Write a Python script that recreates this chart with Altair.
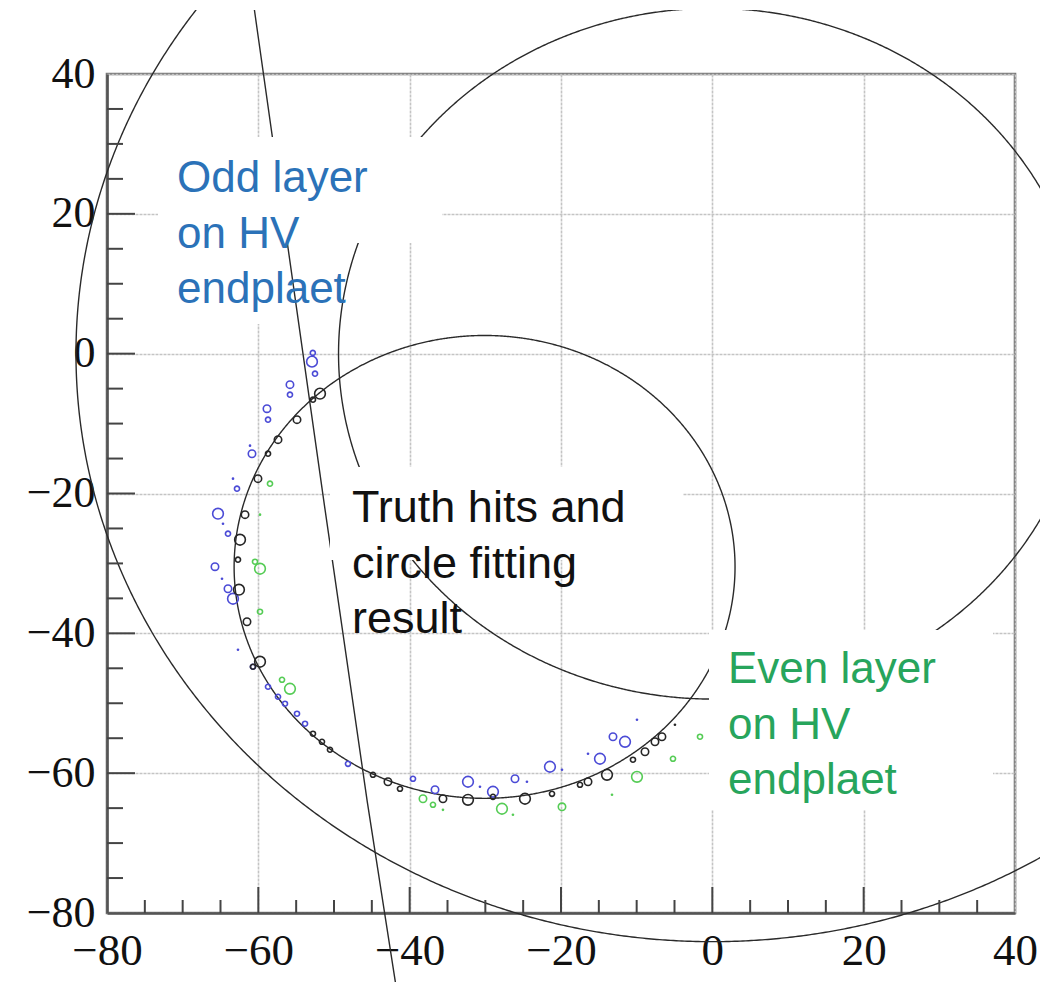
import numpy as np
import pandas as pd
import altair as alt

# ---- plot geometry (pixels of the plot frame) ----
W, H = 908, 839

# ---- axis ticks ----
major_ticks = [-80, -60, -40, -20, 0, 20, 40]
minor_ticks = [v for v in range(-80, 41, 5) if v % 20 != 0]

# ---- circles: fitted track circle and the two detector rings (cx, cy, r) ----
circle_names = ["fit", "inner_ring", "outer_ring"]
circle_cx = [-30.1, 0.0, 0.0]
circle_cy = [-30.5, 0.0, 0.0]
circle_r = [33.1, 49.4, 84.1]

# ---- second, almost straight track ----
track2_x = [-60.6, -53.2, -45.6, -41.8]
track2_y = [49.8, -6.9, -64.1, -90.5]

# ---- truth hits (black) ----
truth_x = [-51.85, -52.78, -54.89, -57.4, -58.72, -60.05, -61.76, -62.42, -62.69, -62.56,
           -61.5, -59.78, -60.71, -52.78, -51.59, -50.53, -44.85, -42.87, -41.28, -35.6,
           -32.29, -28.99, -24.76, -21.19, -17.49, -16.43, -13.92, -10.49, -8.9, -7.58,
           -6.66, -4.94]
truth_y = [-5.72, -6.58, -9.44, -12.3, -14.31, -17.88, -23.03, -26.61, -29.47, -33.76,
           -38.34, -44.06, -44.78, -54.36, -55.51, -56.65, -60.23, -61.23, -62.23, -63.66,
           -63.81, -63.38, -63.66, -62.95, -61.66, -61.23, -60.23, -58.08, -56.94, -55.51,
           -54.79, -53.08]
truth_s = ["big", "small", "med", "med", "small", "med", "med", "big", "small", "big",
           "med", "big", "small", "small", "small", "small", "small", "med", "small", "med",
           "big", "small", "big", "small", "small", "med", "big", "small", "med", "med",
           "med", "tiny"]

# ---- odd layer hits (blue) ----
odd_x = [-52.91, -52.8, -52.51, -55.82, -55.82, -58.86, -58.72, -60.84, -61.1, -62.82,
         -63.35, -65.33, -64.67, -64.01, -65.73, -64.8, -64.01, -63.35, -62.69, -60.71,
         -58.72, -57.4, -56.48, -54.89, -53.83, -48.15, -39.56, -36.65, -32.29, -30.71,
         -28.99, -26.08, -24.5, -21.46, -19.87, -16.43, -14.85, -13.13, -11.54, -9.96]
odd_y = [-1.14, 0.1, -2.86, -4.43, -5.87, -7.87, -9.44, -14.31, -13.16, -19.31,
         -17.88, -22.89, -24.32, -25.75, -30.47, -32.19, -33.62, -35.05, -42.35, -44.78,
         -47.64, -49.07, -50.07, -51.5, -52.93, -58.66, -60.8, -62.37, -61.23, -61.95,
         -62.66, -60.8, -61.23, -59.08, -59.51, -57.22, -57.94, -54.79, -55.51, -52.36]
odd_s = ["big", "small", "small", "med", "small", "med", "small", "med", "tiny", "small",
         "tiny", "big", "tiny", "small", "med", "tiny", "med", "big", "tiny", "small",
         "small", "small", "small", "small", "small", "small", "small", "med", "big", "tiny",
         "big", "med", "tiny", "big", "tiny", "tiny", "big", "med", "big", "tiny"]

# ---- even layer hits (green) ----
even_x = [-58.46, -59.78, -60.44, -59.78, -59.78, -56.87, -55.82, -38.24, -36.92, -35.6,
          -27.8, -26.35, -19.87, -13.26, -9.96, -5.2, -1.63]
even_y = [-18.6, -23.03, -29.76, -30.76, -36.91, -46.64, -47.93, -63.66, -64.52, -65.24,
          -65.09, -65.95, -64.81, -63.09, -60.52, -57.94, -54.79]
even_s = ["small", "tiny", "small", "big", "small", "small", "big", "med", "small", "tiny",
          "big", "tiny", "med", "tiny", "big", "small", "small"]

# ---- annotations ----
odd_label = ["Odd layer", "on HV", "endplaet"]
truth_label = ["Truth hits and", "circle fitting", "result"]
even_label = ["Even layer", "on HV", "endplaet"]

# ---------------------------------------------------------------
xs = alt.Scale(domain=[-80, 40], nice=False, zero=False)
ys = alt.Scale(domain=[-80, 40], nice=False, zero=False)

x_axis = alt.Axis(values=major_ticks, title=None, ticks=False, grid=True,
                  gridColor="#c4c4c4", gridWidth=1.6, gridDash=[3, 1],
                  domainColor="#555555", domainWidth=2.6,
                  labelFont="Liberation Serif", labelFontSize=45, labelColor="#111111",
                  labelPadding=15, labelFlush=False, labelOverlap=False)
y_axis = alt.Axis(values=major_ticks, title=None, ticks=False, grid=True,
                  gridColor="#c4c4c4", gridWidth=1.6, gridDash=[3, 1],
                  domainColor="#555555", domainWidth=2.6,
                  labelFont="Liberation Serif", labelFontSize=44, labelColor="#111111",
                  labelPadding=12, labelFlush=False, labelOverlap=False)


def X(field):
    return alt.X(field, scale=xs, axis=x_axis)


def Y(field):
    return alt.Y(field, scale=ys, axis=y_axis)


# circle outlines built from their centre and radius
theta = np.linspace(0, 2 * np.pi, 1441)
rows = []
for name, cx, cy, r in zip(circle_names, circle_cx, circle_cy, circle_r):
    for i, t in enumerate(theta):
        rows.append({"ring": name, "i": i, "x": cx + r * np.cos(t), "y": cy + r * np.sin(t)})
circles_df = pd.DataFrame(rows)

circles = alt.Chart(circles_df).mark_line(color="#2a2a2a", strokeWidth=1.4, clip=False).encode(
    x=X("x:Q"), y=Y("y:Q"), detail="ring:N", order="i:Q",
)

track2 = alt.Chart(pd.DataFrame({"x": track2_x, "y": track2_y, "i": range(len(track2_x))})).mark_line(
    color="#2a2a2a", strokeWidth=1.4, clip=False, interpolate="monotone"
).encode(x=X("x:Q"), y=Y("y:Q"), order="i:Q")

# marker area (px^2) for each hit size class
size_classes = ["tiny", "small", "med", "big"]
size_area = [7, 26, 55, 115]


def hits(xv, yv, sv, color):
    df = pd.DataFrame({"x": xv, "y": yv, "s": sv})
    layers = []
    for cls, area in zip(size_classes, size_area):
        layers.append(
            alt.Chart(df).transform_filter(alt.datum.s == cls).mark_point(
                shape="circle", filled=(cls == "tiny"), color=color, strokeWidth=1.6,
                size=area, opacity=1,
            ).encode(x=X("x:Q"), y=Y("y:Q"))
        )
    return layers


odd_pts = hits(odd_x, odd_y, odd_s, "#4b4bd6")
even_pts = hits(even_x, even_y, even_s, "#55cc55")
truth_pts = hits(truth_x, truth_y, truth_s, "#262626")

# ---- inward tick marks on bottom and left edges ----
xt_major = alt.Chart(pd.DataFrame({"v": major_ticks[1:-1]})).mark_rule(color="#444444", strokeWidth=2).encode(
    x=X("v:Q"), y=alt.value(H), y2=alt.value(H - 26))
xt_minor = alt.Chart(pd.DataFrame({"v": minor_ticks})).mark_rule(color="#444444", strokeWidth=2).encode(
    x=X("v:Q"), y=alt.value(H), y2=alt.value(H - 13))
yt_major = alt.Chart(pd.DataFrame({"v": major_ticks[1:-1]})).mark_rule(color="#444444", strokeWidth=2).encode(
    y=Y("v:Q"), x=alt.value(0), x2=alt.value(28))
yt_minor = alt.Chart(pd.DataFrame({"v": minor_ticks})).mark_rule(color="#444444", strokeWidth=2).encode(
    y=Y("v:Q"), x=alt.value(0), x2=alt.value(16))


# ---- white label backgrounds and labels ----
def box(x0, x1, y0, y1):
    return alt.Chart(pd.DataFrame({"k": [0]})).mark_rect(color="white", clip=False).encode(
        x=alt.value(x0), x2=alt.value(x1), y=alt.value(y0), y2=alt.value(y1))


def label(lines, x0, y0, color, size):
    return alt.Chart(pd.DataFrame({"k": [0]})).mark_text(
        align="left", baseline="alphabetic", font="Liberation Sans", fontSize=size,
        lineHeight=55.5, color=color, clip=False
    ).encode(x=alt.value(x0), y=alt.value(y0), text=alt.value(lines))


top_band = box(-107, 933, -74, -64)
odd_box = box(51, 335, 63, 169)
odd_box_low = box(51, 180, 169, 250)
truth_box = box(223, 576, 393, 486)
even_box = box(602, 886, 556, 736)

odd_text = label(odd_label, 70, 118, "#2b72b8", 44)
truth_text = label(truth_label, 245, 448, "#111111", 45)
even_text = label(even_label, 621, 609, "#27a55c", 44)

chart = alt.layer(
    circles, track2, *odd_pts, *even_pts, *truth_pts,
    xt_major, xt_minor, yt_major, yt_minor,
    top_band, odd_box, odd_box_low, truth_box, even_box,
    odd_text, truth_text, even_text,
).properties(
    width=W, height=H,
    autosize=alt.AutoSizeParams(type="none"),
    padding={"left": 107, "top": 74, "right": 25, "bottom": 69},
    background="white",
).configure_view(stroke="#777777", strokeWidth=2.6)

chart.save("out.html", embed_options={"renderer": "svg", "actions": False})
